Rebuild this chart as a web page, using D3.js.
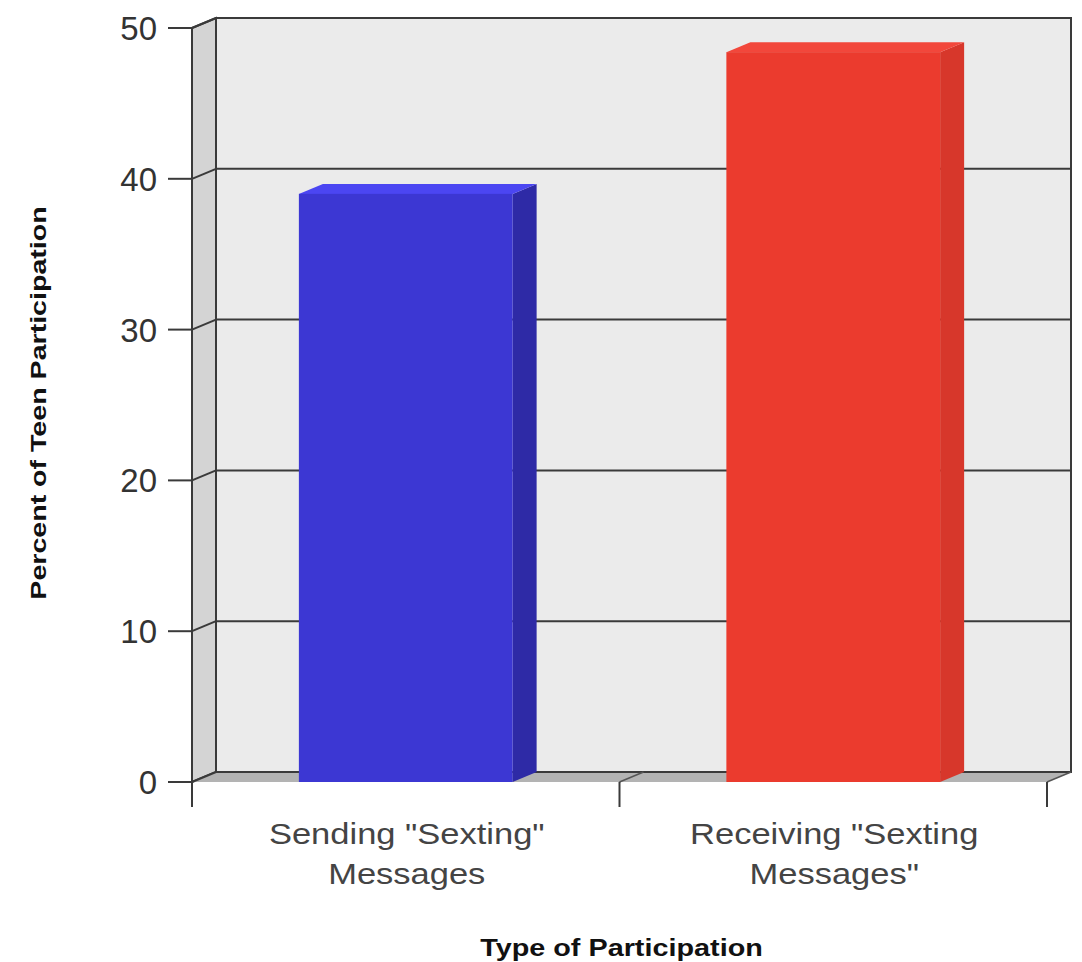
<!DOCTYPE html>
<html>
<head>
<meta charset="utf-8">
<script src="https://cdn.jsdelivr.net/npm/d3@7"></script>
<style>
  body { margin: 0; background: #fff; }
  text { font-family: "Liberation Sans", Arial, sans-serif; }
</style>
</head>
<body>
<svg id="chart"></svg>
<script>
var w = 1082;
var h = 962;

// data
var categories = ['Sending "Sexting" Messages', 'Receiving "Sexting Messages"'];
var labelLines = [['Sending "Sexting"', 'Messages'], ['Receiving "Sexting', 'Messages"']];
var values = [39, 48.4];
var yTicks = [0, 10, 20, 30, 40, 50];
var frontColors = ['#3c37d3', '#eb3b2e'];
var sideColors = ['#2e2aa6', '#d7372b'];
var topColors = ['#4b46f2', '#f2473b'];

// 3d depth offset
var dx = 24, dy = -10;

var svg = d3.select('#chart')
  .attr('width', w)
  .attr('height', h);

var x = d3.scaleBand()
  .domain(categories)
  .range([192, 1047])
  .paddingInner(0.5)
  .paddingOuter(0.25);

var y = d3.scaleLinear()
  .domain([0, 50])
  .range([782, 28]);

var x0 = x.range()[0], x1 = x.range()[1];
var y0 = y(0), yTop = y(50);

function pts(arr) { return arr.map(function (p) { return p.join(','); }).join(' '); }

// back wall
svg.append('rect')
  .attr('x', x0 + dx).attr('y', yTop + dy)
  .attr('width', x1 - x0).attr('height', y0 - yTop)
  .attr('fill', '#ebebeb')
  .attr('stroke', '#3a3a3a').attr('stroke-width', 2);

// left side wall
svg.append('polygon')
  .attr('points', pts([[x0, yTop], [x0 + dx, yTop + dy], [x0 + dx, y0 + dy], [x0, y0]]))
  .attr('fill', '#d4d4d4')
  .attr('stroke', '#3a3a3a').attr('stroke-width', 2);

// floor
svg.append('polygon')
  .attr('points', pts([[x0, y0], [x0 + dx, y0 + dy], [x1 + dx, y0 + dy], [x1, y0]]))
  .attr('fill', '#b3b3b3');
svg.append('line')
  .attr('x1', x0 + dx).attr('x2', x1 + dx)
  .attr('y1', y0 + dy).attr('y2', y0 + dy)
  .attr('stroke', '#3a3a3a').attr('stroke-width', 2);

// gridlines
var grid = svg.append('g');
grid.selectAll('line.grid')
  .data(yTicks.slice(1, -1))
  .enter().append('line')
  .attr('class', 'grid')
  .attr('x1', x0 + dx).attr('x2', x1 + dx)
  .attr('y1', function (d) { return y(d) + dy; })
  .attr('y2', function (d) { return y(d) + dy; })
  .attr('stroke', '#3a3a3a').attr('stroke-width', 2);
grid.selectAll('line.diag')
  .data(yTicks)
  .enter().append('line')
  .attr('class', 'diag')
  .attr('x1', x0).attr('x2', x0 + dx)
  .attr('y1', function (d) { return y(d); })
  .attr('y2', function (d) { return y(d) + dy; })
  .attr('stroke', '#3a3a3a').attr('stroke-width', 2);

// floor diagonals at category boundaries
var bounds = [x0 + (x1 - x0) / 2, x1];
svg.selectAll('line.fdiag')
  .data(bounds)
  .enter().append('line')
  .attr('class', 'fdiag')
  .attr('x1', function (d) { return d; }).attr('x2', function (d) { return d + dx; })
  .attr('y1', y0).attr('y2', y0 + dy)
  .attr('stroke', '#555').attr('stroke-width', 1.5);

// bars
var bars = svg.selectAll('g.bar')
  .data(categories)
  .enter().append('g')
  .attr('class', 'bar');

bars.append('polygon')
  .attr('points', function (d, i) {
    var bx = x(d) + x.bandwidth(), t = y(values[i]);
    return pts([[bx, t], [bx + dx, t + dy], [bx + dx, y0 + dy], [bx, y0]]);
  })
  .attr('fill', function (d, i) { return sideColors[i]; });

bars.append('polygon')
  .attr('points', function (d, i) {
    var bx = x(d), t = y(values[i]);
    return pts([[bx, t], [bx + dx, t + dy], [bx + x.bandwidth() + dx, t + dy], [bx + x.bandwidth(), t]]);
  })
  .attr('fill', function (d, i) { return topColors[i]; });

bars.append('rect')
  .attr('x', function (d) { return x(d); })
  .attr('y', function (d, i) { return y(values[i]); })
  .attr('width', x.bandwidth())
  .attr('height', function (d, i) { return y0 - y(values[i]); })
  .attr('fill', function (d, i) { return frontColors[i]; });

// front axis
svg.append('line')
  .attr('x1', x0).attr('x2', x0)
  .attr('y1', yTop).attr('y2', y0 + 25)
  .attr('stroke', '#3a3a3a').attr('stroke-width', 2);

svg.selectAll('line.ytick')
  .data(yTicks)
  .enter().append('line')
  .attr('class', 'ytick')
  .attr('x1', x0 - 24).attr('x2', x0)
  .attr('y1', function (d) { return y(d); })
  .attr('y2', function (d) { return y(d); })
  .attr('stroke', '#3a3a3a').attr('stroke-width', 2);

svg.selectAll('text.ylab')
  .data(yTicks)
  .enter().append('text')
  .attr('class', 'ylab')
  .attr('x', x0 - 35)
  .attr('y', function (d) { return y(d) + 12; })
  .attr('text-anchor', 'end')
  .attr('font-size', 33)
  .attr('fill', '#333')
  .text(function (d) { return d; });

svg.selectAll('line.xtick')
  .data(bounds)
  .enter().append('line')
  .attr('class', 'xtick')
  .attr('x1', function (d) { return d; }).attr('x2', function (d) { return d; })
  .attr('y1', y0).attr('y2', y0 + 25)
  .attr('stroke', '#3a3a3a').attr('stroke-width', 2);

// category labels
var xl = svg.selectAll('text.xlab')
  .data(categories)
  .enter().append('text')
  .attr('class', 'xlab')
  .attr('text-anchor', 'middle')
  .attr('font-size', 30)
  .attr('fill', '#444')
  .attr('transform', function (d) { return 'translate(' + (x(d) + x.bandwidth() / 2 + 1) + ',844) scale(1.15,1)'; });
xl.selectAll('tspan')
  .data(function (d, i) { return labelLines[i]; })
  .enter().append('tspan')
  .attr('x', 0)
  .attr('dy', function (d, i) { return i === 0 ? 0 : 40; })
  .text(function (d) { return d; });

// axis titles
svg.append('text')
  .attr('transform', 'translate(' + ((x0 + x1) / 2 + 2) + ',956) scale(1.2,1)')
  .attr('text-anchor', 'middle')
  .attr('font-size', 24)
  .attr('font-weight', 'bold')
  .attr('fill', '#111')
  .text('Type of Participation');

svg.append('text')
  .attr('transform', 'translate(46,403) rotate(-90) scale(1.3,1)')
  .attr('text-anchor', 'middle')
  .attr('font-size', 22)
  .attr('font-weight', 'bold')
  .attr('fill', '#111')
  .text('Percent of Teen Participation');
</script>
</body>
</html>
